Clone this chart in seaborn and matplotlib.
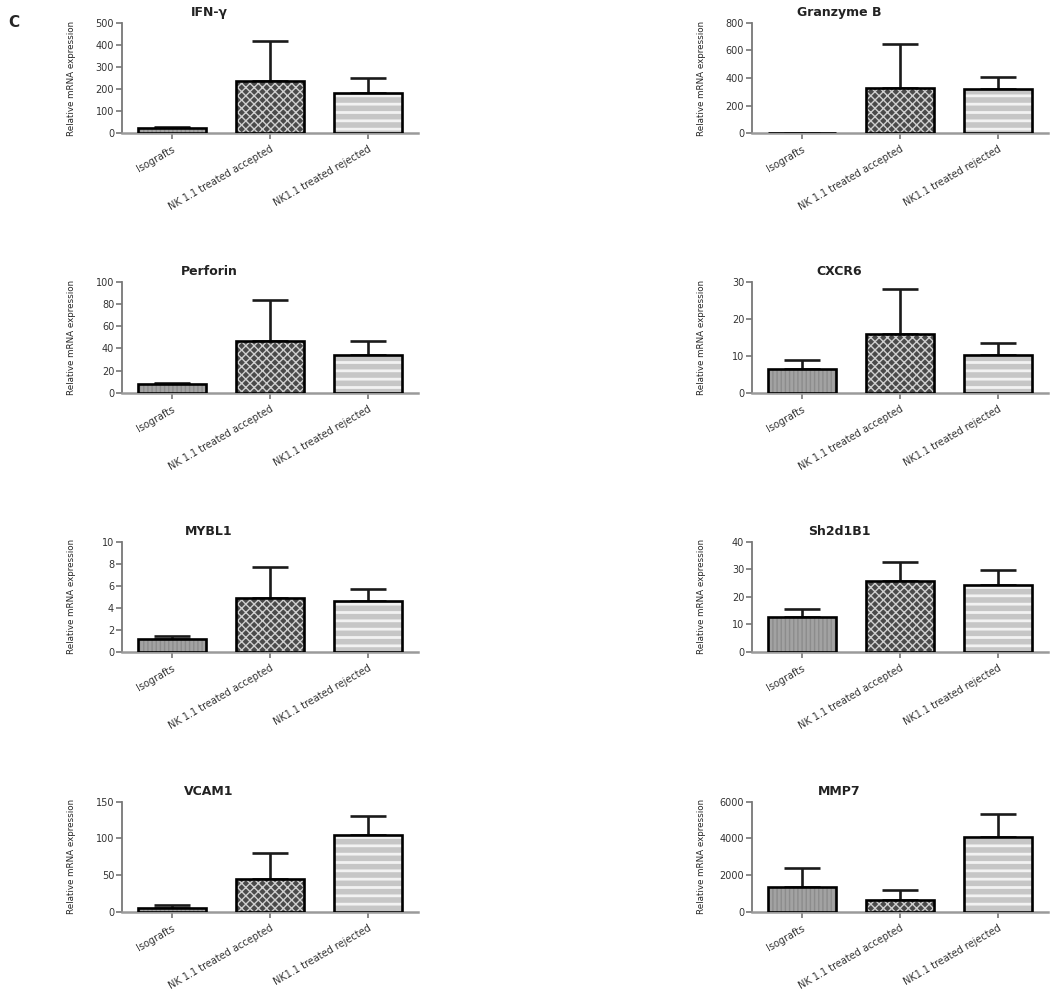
import numpy as np
import pandas as pd
import matplotlib.pyplot as plt
import seaborn as sns
from matplotlib.patches import Rectangle

# groups and genes
groups = ['Isografts', 'NK 1.1 treated accepted', 'NK1.1 treated rejected']
genes = ['IFN-\u03b3', 'Granzyme B', 'Perforin', 'CXCR6',
         'MYBL1', 'Sh2d1B1', 'VCAM1', 'MMP7']

# mean relative mRNA expression per gene (Isografts, accepted, rejected)
means = [
    [22, 235, 182],
    [3, 328, 322],
    [7.5, 47, 34],
    [6.3, 16, 10.3],
    [1.2, 4.9, 4.6],
    [12.7, 25.7, 24.3],
    [6, 45, 105],
    [1350, 650, 4080],
]
# upper error (SEM)
sems = [
    [6, 185, 68],
    [2, 317, 88],
    [1.5, 37, 13],
    [2.7, 12.3, 3.2],
    [0.25, 2.8, 1.1],
    [2.8, 7.1, 5.3],
    [3, 35, 26],
    [1050, 550, 1240],
]
y_max = [500, 800, 100, 30, 10, 40, 150, 6000]
y_step = [100, 200, 20, 10, 2, 10, 50, 2000]

sns.set_style('ticks')
plt.rcParams['font.family'] = ['DejaVu Sans']
plt.rcParams['hatch.linewidth'] = 1.2

# face colour, hatch, hatch colour and hatch width for each group
bar_styles = [
    ('#a2a2a2', '||||', '#8c8c8c', 1.0),
    ('#4a4a4a', 'xxxx', '#cfcfcf', 1.0),
    ('#c6c6c6', '--', '#f2f2f2', 2.0),
]

fig = plt.figure(figsize=(10.5, 9.94), dpi=100)

lefts = [0.116, 0.716]
bottoms = [0.866, 0.605, 0.344, 0.0825]
w, h = 0.282, 0.111

for i, gene in enumerate(genes):
    row, col = divmod(i, 2)
    ax = fig.add_axes([lefts[col], bottoms[row], w, h])
    df = pd.DataFrame({'group': groups, 'value': means[i]})
    sns.barplot(data=df, x='group', y='value', order=groups, errorbar=None,
                width=0.69, ax=ax)
    for p, (fc, hatch, hc, hlw) in zip(ax.patches, bar_styles):
        p.set_facecolor(fc)
        p.set_edgecolor(hc)
        p.set_hatch(hatch)
        if hasattr(p, 'set_hatch_linewidth'):
            p.set_hatch_linewidth(hlw)
        p.set_linewidth(0)
        p.set_zorder(3)
        ax.add_patch(Rectangle(p.get_xy(), p.get_width(), p.get_height(),
                               fill=False, edgecolor='black', linewidth=1.9,
                               zorder=4))
    ax.errorbar(np.arange(len(groups)), means[i],
                yerr=[np.zeros(len(groups)), sems[i]], fmt='none',
                ecolor='#1a1a1a', elinewidth=1.9, capsize=13, capthick=1.9,
                zorder=2)

    ax.set_xlim(-0.51, 2.51)
    ax.set_ylim(0, y_max[i])
    ax.set_yticks(np.arange(0, y_max[i] + y_step[i] / 2, y_step[i]))
    ax.set_xlabel('')
    ax.set_ylabel('Relative mRNA expression', fontsize=6.3)
    ax.yaxis.set_label_coords(-0.155, 0.5)
    ax.set_xticks(range(len(groups)))
    ax.set_xticklabels(groups, rotation=30, ha='right', rotation_mode='anchor',
                       fontsize=7)
    ax.tick_params(axis='y', labelsize=7, length=4, width=1.2, color='#777777',
                   pad=1.5, labelcolor='#333333')
    ax.tick_params(axis='x', length=4, width=1.2, color='#777777', pad=4,
                   labelcolor='#333333')
    sns.despine(ax=ax)
    ax.spines['left'].set_color('#777777')
    ax.spines['left'].set_linewidth(1.3)
    ax.spines['bottom'].set_color('#9a9a9a')
    ax.spines['bottom'].set_linewidth(1.8)
    ax.text(0.295, 1.035, gene, transform=ax.transAxes, ha='center',
            va='bottom', fontsize=9, fontweight='bold', color='#222222')

fig.text(0.008, 0.985, 'C', fontsize=11, fontweight='bold', va='top')

plt.savefig('out.png', dpi=100)
